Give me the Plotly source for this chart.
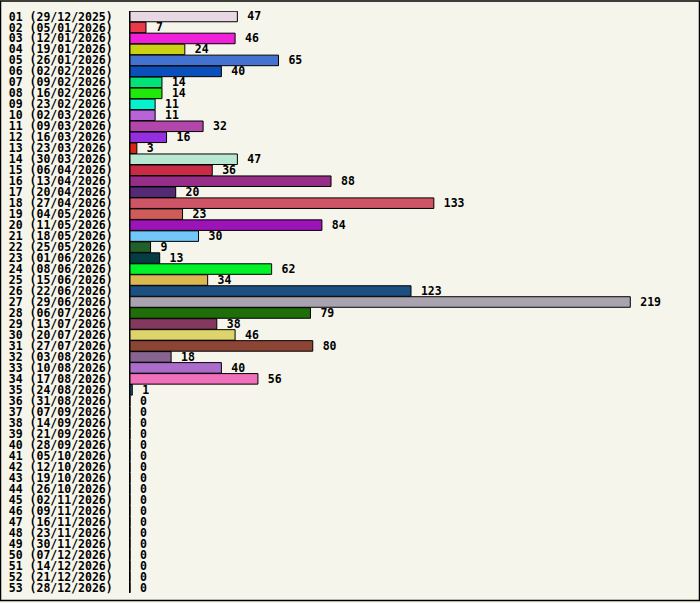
import plotly.graph_objects as go

weeks = ["01 (29/12/2025)", "02 (05/01/2026)", "03 (12/01/2026)", "04 (19/01/2026)",
         "05 (26/01/2026)", "06 (02/02/2026)", "07 (09/02/2026)", "08 (16/02/2026)",
         "09 (23/02/2026)", "10 (02/03/2026)", "11 (09/03/2026)", "12 (16/03/2026)",
         "13 (23/03/2026)", "14 (30/03/2026)", "15 (06/04/2026)", "16 (13/04/2026)",
         "17 (20/04/2026)", "18 (27/04/2026)", "19 (04/05/2026)", "20 (11/05/2026)",
         "21 (18/05/2026)", "22 (25/05/2026)", "23 (01/06/2026)", "24 (08/06/2026)",
         "25 (15/06/2026)", "26 (22/06/2026)", "27 (29/06/2026)", "28 (06/07/2026)",
         "29 (13/07/2026)", "30 (20/07/2026)", "31 (27/07/2026)", "32 (03/08/2026)",
         "33 (10/08/2026)", "34 (17/08/2026)", "35 (24/08/2026)", "36 (31/08/2026)",
         "37 (07/09/2026)", "38 (14/09/2026)", "39 (21/09/2026)", "40 (28/09/2026)",
         "41 (05/10/2026)", "42 (12/10/2026)", "43 (19/10/2026)", "44 (26/10/2026)",
         "45 (02/11/2026)", "46 (09/11/2026)", "47 (16/11/2026)", "48 (23/11/2026)",
         "49 (30/11/2026)", "50 (07/12/2026)", "51 (14/12/2026)", "52 (21/12/2026)",
         "53 (28/12/2026)"]

counts = [47, 7, 46, 24, 65, 40, 14, 14, 11, 11, 32, 16, 3, 47, 36, 88, 20, 133, 23, 84,
          30, 9, 13, 62, 34, 123, 219, 79, 38, 46, 80, 18, 40, 56, 1,
          0, 0, 0, 0, 0, 0, 0, 0, 0, 0, 0, 0, 0, 0, 0, 0, 0, 0]

bar_colors = ["#e8d8e4", "#e83a48", "#f020d8", "#cbd214", "#4472d0", "#0a4fbb", "#02e279",
              "#20e80a", "#04f2cc", "#b864d8", "#b346ab", "#952ede", "#d82610", "#b8e8d2",
              "#c92b46", "#962e88", "#542a74", "#cd5566", "#d05c5a", "#9c14b8", "#72c6f8",
              "#22602a", "#053d45", "#02f22a", "#d9b852", "#1c5082", "#a9a3b0", "#1e6e0a",
              "#85385e", "#ddd46c", "#8c4434", "#866690", "#ac6ccc", "#f070bc", "#1c5082"]
bar_colors += ["#888888"] * (len(weeks) - len(bar_colors))

W, H = 700, 603
L, R, T, B = 130, 40, 10.5, 8
pw, ph = W - L - R, H - T - B

font = dict(family="DejaVu Sans Mono", size=11.5, color="black", weight="bold")

fig = go.Figure()
fig.add_trace(go.Bar(
    x=counts, y=weeks, orientation="h",
    marker=dict(color=bar_colors, line=dict(color="black", width=1)),
    text=counts, texttemplate="\u00a0%{x}", textposition="outside",
    constraintext="none", textfont=font, cliponaxis=False, hoverinfo="skip",
))

fig.update_layout(
    width=W, height=H,
    margin=dict(l=L, r=R, t=T, b=B, pad=0),
    paper_bgcolor="#f5f5eb", plot_bgcolor="#f5f5eb",
    showlegend=False, bargap=0.04, font=font,
    shapes=[dict(type="rect", xref="paper", yref="paper",
                 x0=(0.5 - L) / pw, x1=(W - 0.5 - L) / pw,
                 y0=-(B - 0.5) / ph, y1=(H - B - 0.5) / ph,
                 line=dict(color="black", width=1.5), layer="above")],
)
fig.update_xaxes(range=[0, 232], visible=False)
fig.update_yaxes(autorange="reversed", showline=True, linecolor="black", linewidth=1,
                 tickmode="linear", dtick=1, ticks="", ticklabelstandoff=14,
                 tickfont=font, showgrid=False)

fig.write_html("out.html", config={"displayModeBar": False},
               post_script="document.body.style.margin='0';")
